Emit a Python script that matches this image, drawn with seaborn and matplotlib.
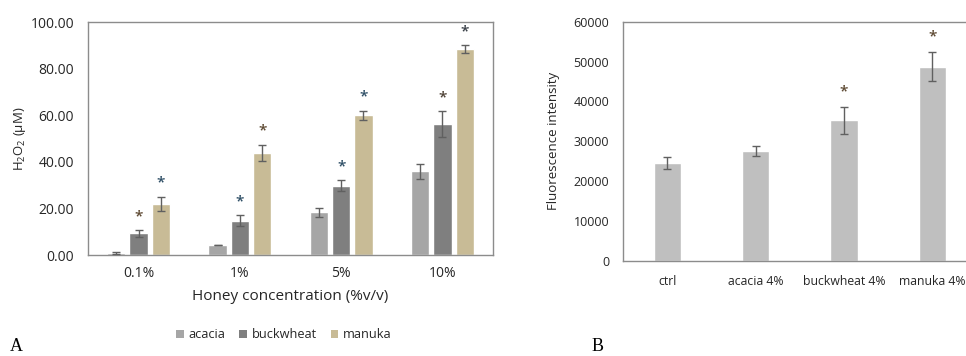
import numpy as np
import pandas as pd
import matplotlib
matplotlib.use("Agg")
import matplotlib.pyplot as plt
import seaborn as sns
from matplotlib.patches import Patch

# ---------------- data ----------------
concentrations = ["0.1%", "1%", "5%", "10%"]
honeys = ["acacia", "buckwheat", "manuka"]
acacia_vals = [0.9, 4.3, 18.3, 35.9]
acacia_err = [0.3, 0.2, 2.0, 3.1]
buckwheat_vals = [9.3, 14.7, 29.8, 56.2]
buckwheat_err = [1.5, 2.4, 2.3, 5.4]
manuka_vals = [22.0, 43.8, 59.9, 88.3]
manuka_err = [3.1, 3.6, 2.0, 1.8]
# significance flags (buckwheat, manuka) per concentration
buckwheat_sig = [True, True, True, True]
manuka_sig = [True, True, True, True]
buckwheat_star_color = ["#5e4a33", "#2f4f66", "#2f4f66", "#4e4236"]
manuka_star_color = ["#2f4f66", "#5e4a33", "#2f4f66", "#3a4048"]

b_categories = ["ctrl", "acacia 4%", "buckwheat 4%", "manuka 4%"]
b_values = [24600, 27600, 35200, 48700]
b_err = [1500, 1300, 3300, 3700]
b_sig = [False, False, True, True]

yticks_a = [0, 20, 40, 60, 80, 100]
yticks_b = [0, 10000, 20000, 30000, 40000, 50000, 60000]

colors = {"acacia": "#a6a6a6", "buckwheat": "#7f7f7f", "manuka": "#c8bb96"}
bar_b_color = "#bfbfbf"
err_color = "#606060"
frame_color = "#8c8c8c"
text_color = "#262626"

# --------------- style ----------------
sns.set_theme(style="white")
plt.rcParams["font.family"] = ["Open Sans", "DejaVu Sans"]
plt.rcParams["mathtext.fontset"] = "custom"
plt.rcParams["mathtext.rm"] = "Open Sans"
plt.rcParams["mathtext.it"] = "Open Sans"
plt.rcParams["text.color"] = text_color
plt.rcParams["axes.labelcolor"] = text_color
plt.rcParams["xtick.color"] = text_color
plt.rcParams["ytick.color"] = text_color

fig = plt.figure(figsize=(9.66, 3.56), dpi=100)

# ---------------- Panel A ----------------
df_a = pd.DataFrame({
    "conc": concentrations * 3,
    "honey": [h for h in honeys for _ in concentrations],
    "value": acacia_vals + buckwheat_vals + manuka_vals,
})
errs = {"acacia": acacia_err, "buckwheat": buckwheat_err, "manuka": manuka_err}
vals = {"acacia": acacia_vals, "buckwheat": buckwheat_vals, "manuka": manuka_vals}

axA = fig.add_axes([0.0911, 0.2837, 0.4193, 0.6545])
sns.barplot(data=df_a, x="conc", y="value", hue="honey", order=concentrations,
            hue_order=honeys, palette=colors, width=0.66, gap=0.18,
            errorbar=None, saturation=1, legend=False, ax=axA)

for hi, (h, cont) in enumerate(zip(honeys, axA.containers)):
    xs = [p.get_x() + p.get_width() / 2 for p in cont.patches]
    axA.errorbar(xs, vals[h], yerr=errs[h], fmt="none", ecolor=err_color,
                 elinewidth=1, capsize=3, capthick=1, zorder=3)
    if h == "buckwheat":
        for i, x in enumerate(xs):
            if buckwheat_sig[i]:
                axA.text(x, vals[h][i] + errs[h][i] + 6.0, "*", ha="center",
                         va="center", fontsize=11, fontweight="semibold",
                         color=buckwheat_star_color[i])
    if h == "manuka":
        for i, x in enumerate(xs):
            if manuka_sig[i]:
                axA.text(x, vals[h][i] + errs[h][i] + 6.0, "*", ha="center",
                         va="center", fontsize=11, fontweight="semibold",
                         color=manuka_star_color[i])

axA.set_xlim(-0.5, 3.5)
axA.set_ylim(0, 100)
axA.set_yticks(yticks_a)
axA.set_yticklabels([f"{v:.2f}" for v in yticks_a])
axA.tick_params(axis="y", length=0, pad=10, labelsize=10)
axA.tick_params(axis="x", length=0, pad=8, labelsize=10)
axA.set_xlabel("Honey concentration (%v/v)", fontsize=11, labelpad=6)
axA.set_ylabel(r"H$_2$O$_2$ (µM)", fontsize=9.5, labelpad=2)
for s in axA.spines.values():
    s.set_visible(True)
    s.set_color(frame_color)
    s.set_linewidth(1)

handles = [Patch(facecolor=colors[h], edgecolor="none") for h in honeys]
fig.legend(handles, honeys, loc="center", bbox_to_anchor=(0.294, 0.060),
           ncol=3, frameon=False, fontsize=9.2, handlelength=0.6,
           handleheight=0.6, handletextpad=0.35, columnspacing=1.1)

fig.text(0.017, 0.014, "A", family="Liberation Serif", fontsize=13,
         color="black", ha="center", va="baseline")

# ---------------- Panel B ----------------
df_b = pd.DataFrame({"cat": b_categories, "value": b_values})
axB = fig.add_axes([0.645, 0.2677, 0.366, 0.6713])
sns.barplot(data=df_b, x="cat", y="value", order=b_categories, color=bar_b_color,
            width=0.31, errorbar=None, saturation=1, ax=axB)
xsb = [p.get_x() + p.get_width() / 2 for p in axB.containers[0].patches]
axB.errorbar(xsb, b_values, yerr=b_err, fmt="none", ecolor=err_color,
             elinewidth=1, capsize=3, capthick=1, zorder=3)
for i, x in enumerate(xsb):
    if b_sig[i]:
        axB.text(x, b_values[i] + b_err[i] + 4000, "*", ha="center",
                 va="center", fontsize=11, fontweight="semibold",
                 color=manuka_star_color[1])

axB.set_xlim(-0.5, 3.5)
axB.set_ylim(0, 60000)
axB.set_yticks(yticks_b)
axB.set_yticklabels([str(v) for v in yticks_b])
axB.tick_params(axis="y", length=0, pad=10, labelsize=9)
axB.tick_params(axis="x", length=0, pad=10, labelsize=8.8)
axB.set_xlabel("")
axB.set_ylabel("Fluorescence intensity", fontsize=9.5, labelpad=10)
for s in axB.spines.values():
    s.set_visible(True)
    s.set_color(frame_color)
    s.set_linewidth(1)

fig.text(0.619, 0.014, "B", family="Liberation Serif", fontsize=13,
         color="black", ha="center", va="baseline")

fig.savefig("out.png", dpi=100)
